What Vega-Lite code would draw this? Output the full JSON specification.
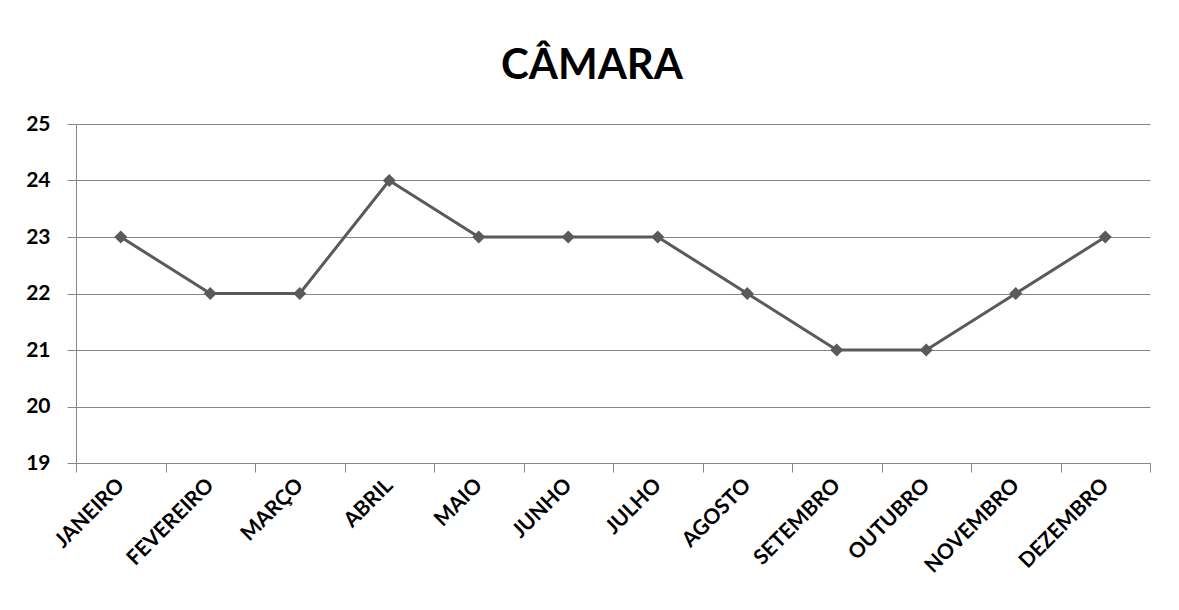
{
  "$schema": "https://vega.github.io/schema/vega-lite/v6.json",
  "width": 1074,
  "height": 339,
  "autosize": {"type": "none"},
  "padding": {"left": 76, "top": 124, "right": 29, "bottom": 147},
  "background": "white",
  "title": {
    "text": "CÂMARA",
    "fontSize": 42,
    "font": "Lato",
    "fontWeight": "bold",
    "color": "#000000",
    "anchor": "middle",
    "baseline": "alphabetic",
    "offset": -8,
    "dx": -21
  },
  "config": {
    "view": {"stroke": null},
    "font": "Lato"
  },
  "data": {
    "values": [
      {"mes": "JANEIRO", "valor": 23},
      {"mes": "FEVEREIRO", "valor": 22},
      {"mes": "MARÇO", "valor": 22},
      {"mes": "ABRIL", "valor": 24},
      {"mes": "MAIO", "valor": 23},
      {"mes": "JUNHO", "valor": 23},
      {"mes": "JULHO", "valor": 23},
      {"mes": "AGOSTO", "valor": 22},
      {"mes": "SETEMBRO", "valor": 21},
      {"mes": "OUTUBRO", "valor": 21},
      {"mes": "NOVEMBRO", "valor": 22},
      {"mes": "DEZEMBRO", "valor": 23}
    ]
  },
  "encoding": {
    "x": {
      "field": "mes",
      "type": "ordinal",
      "sort": null,
      "scale": {"type": "band", "paddingInner": 0, "paddingOuter": 0},
      "axis": {
        "title": null,
        "labelAngle": -45,
        "labelAlign": "right",
        "labelBaseline": "middle",
        "labelFont": "Lato",
        "labelFontWeight": "bold",
        "labelFontSize": 21,
        "labelColor": "#000000",
        "labelPadding": 10,
        "tickBand": "extent",
        "tickSize": 9,
        "tickColor": "#868686",
        "domainColor": "#868686",
        "domainWidth": 1,
        "grid": false
      }
    },
    "y": {
      "field": "valor",
      "type": "quantitative",
      "scale": {"domain": [19, 25], "nice": false, "zero": false},
      "axis": {
        "title": null,
        "values": [19, 20, 21, 22, 23, 24, 25],
        "labelFont": "Lato",
        "labelFontWeight": "bold",
        "labelFontSize": 21,
        "labelColor": "#000000",
        "labelPadding": 17,
        "tickSize": 9,
        "tickColor": "#868686",
        "domainColor": "#868686",
        "gridColor": "#868686",
        "gridWidth": 1,
        "grid": true
      }
    }
  },
  "layer": [
    {
      "mark": {"type": "line", "color": "#5a5a5a", "strokeWidth": 3}
    },
    {
      "mark": {"type": "point", "shape": "diamond", "filled": true, "color": "#5a5a5a", "size": 170, "opacity": 1}
    }
  ]
}
